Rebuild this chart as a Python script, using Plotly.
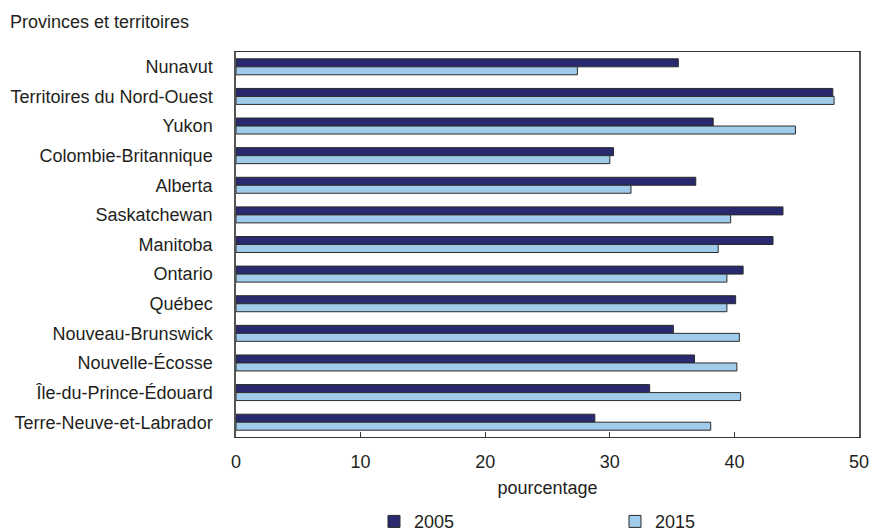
import plotly.graph_objects as go

categories = ["Nunavut", "Territoires du Nord-Ouest", "Yukon", "Colombie-Britannique",
              "Alberta", "Saskatchewan", "Manitoba", "Ontario", "Québec",
              "Nouveau-Brunswick", "Nouvelle-Écosse", "Île-du-Prince-Édouard",
              "Terre-Neuve-et-Labrador"]
values_2005 = [35.5, 47.9, 38.3, 30.3, 36.9, 43.9, 43.1, 40.7, 40.1, 35.1, 36.8, 33.2, 28.8]
values_2015 = [27.4, 48.0, 44.9, 30.0, 31.7, 39.7, 38.7, 39.4, 39.4, 40.4, 40.2, 40.5, 38.1]
x_ticks = [0, 10, 20, 30, 40, 50]

FONT = "Liberation Sans, Arial, sans-serif"
TXT = "#231f20"

fig = go.Figure()
fig.add_trace(go.Bar(y=categories, x=values_2005, name="2005", orientation="h",
                     marker=dict(color="#28296f", line=dict(color="#2b2b2b", width=1))))
fig.add_trace(go.Bar(y=categories, x=values_2015, name="2015", orientation="h",
                     marker=dict(color="#a0cbea", line=dict(color="#2b2b2b", width=1))))

fig.update_layout(
    width=871, height=531,
    margin=dict(l=236, r=12, t=52, b=94, autoexpand=False),
    paper_bgcolor="white", plot_bgcolor="white",
    barmode="group", bargap=0.46, bargroupgap=0,
    font=dict(family=FONT, size=18, color=TXT),
    showlegend=True,
    legend=dict(orientation="h", x=0.2215, xanchor="left", y=-0.22, yanchor="middle",
                entrywidth=196, entrywidthmode="pixels",
                font=dict(size=18, color=TXT), itemclick=False),
    annotations=[dict(text="Provinces et territoires", xref="paper", yref="paper",
                      x=-228/623, y=1 + 30/385, xanchor="left", yanchor="middle",
                      showarrow=False, font=dict(size=18, color=TXT))],
)
fig.update_xaxes(range=[0, 50], tickvals=x_ticks, ticktext=[str(v) for v in x_ticks],
                 ticks="inside", ticklen=5, tickcolor="#333", showgrid=False, zeroline=False,
                 showline=True, linecolor="#333", linewidth=1, mirror=True,
                 ticklabelstandoff=8,
                 title=dict(text="pourcentage", standoff=10, font=dict(size=18)),
                 tickfont=dict(size=18), automargin=False)
fig.update_yaxes(categoryorder="array", categoryarray=categories, autorange="reversed",
                 ticks="", showgrid=False, zeroline=False,
                 showline=True, linecolor="#555", linewidth=1.5, mirror=True,
                 ticklabelstandoff=18, tickfont=dict(size=18), automargin=False)

fig.write_html("out.html",
               config={"displayModeBar": False},
               post_script="document.documentElement.style.overflow='hidden';"
                           "document.body.style.margin='0';document.body.style.overflow='hidden';")
